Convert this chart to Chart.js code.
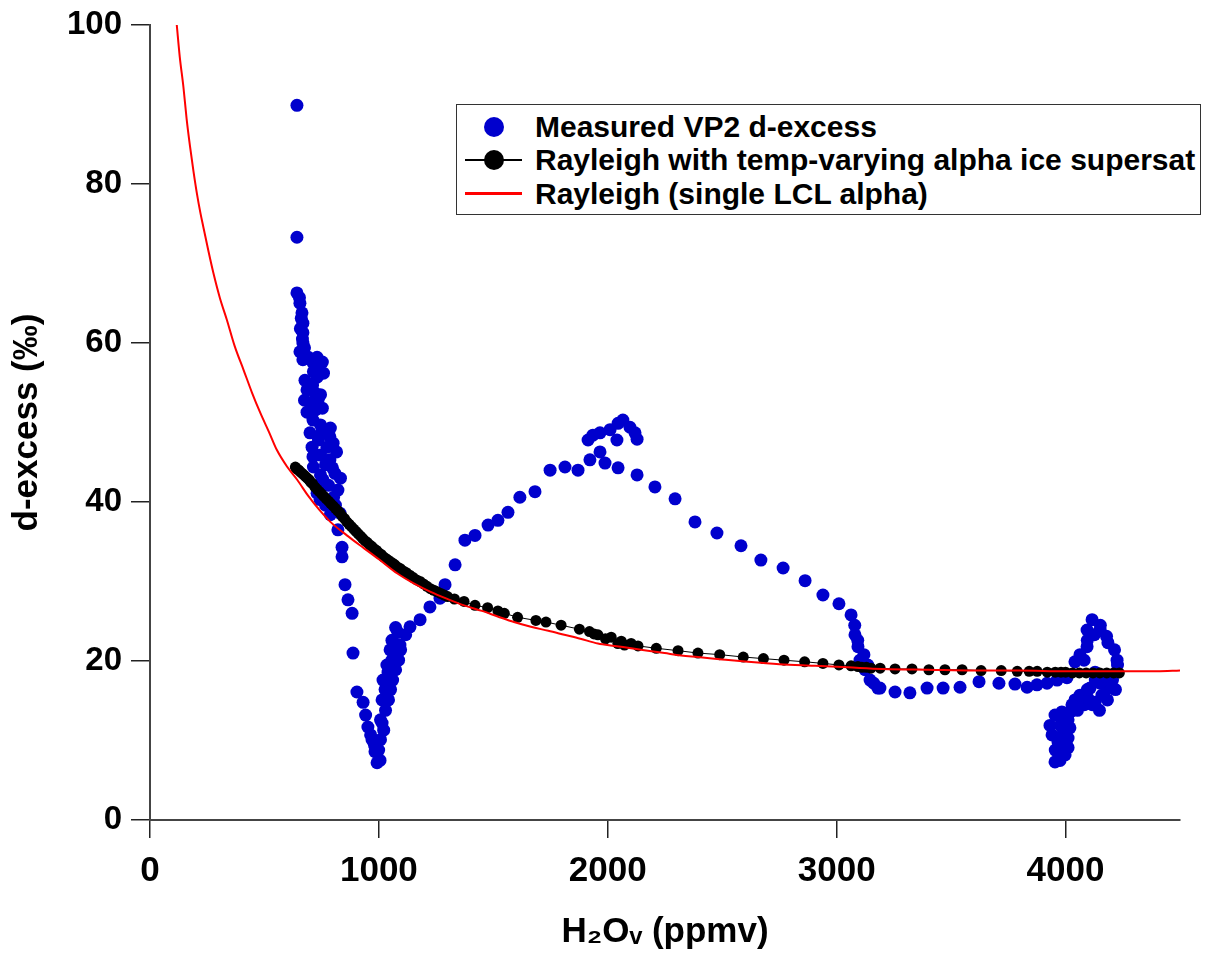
<!DOCTYPE html>
<html lang="en">
<head>
  <meta charset="UTF-8">
  <title>d-excess vs H2Ov</title>
  <script src="https://cdn.jsdelivr.net/npm/chart.js"></script>
  <style>
    * { box-sizing: border-box; margin: 0; padding: 0; }

    body {
      background: #fff;
      width: 1206px;
      height: 953px;
      overflow: hidden;
      font-family: 'Liberation Sans', Arial, sans-serif;
    }

    .wrap { position: relative; width: 1206px; height: 953px; }
    canvas { display: block; }

    .legend {
      position: absolute;
      left: 456px;
      top: 104px;
      width: 745px;
      height: 111px;
      border: 1.5px solid #333;
      background: #fff;
    }

    .legend .row {
      position: absolute;
      left: 0;
      height: 34px;
      display: flex;
      align-items: center;
      font-weight: bold;
      font-size: 30px;
      color: #000;
      white-space: nowrap;
    }

    .sym { position: relative; width: 78px; height: 34px; flex: none; }
    .sym .dot {
      position: absolute; left: 26.5px; top: 7px;
      width: 20px; height: 20px; border-radius: 50%;
    }
    .sym .line {
      position: absolute; left: 7.5px; width: 57px; top: 16px; height: 2px;
    }
  </style>
</head>
<body>

<div class="wrap">
  <canvas id="chart" width="1206" height="953"></canvas>
  <div class="legend">
    <div class="row" style="top:4.5px">
      <div class="sym"><div class="dot" style="background:#0000cd"></div></div>
      <span>Measured VP2 d-excess</span>
    </div>
    <div class="row" style="top:38px">
      <div class="sym"><div class="line" style="background:#000"></div><div class="dot" style="background:#000"></div></div>
      <span>Rayleigh with temp-varying alpha ice supersat</span>
    </div>
    <div class="row" style="top:71.5px">
      <div class="sym"><div class="line" style="background:#ff0000;height:3px;top:15.5px"></div></div>
      <span>Rayleigh (single LCL alpha)</span>
    </div>
  </div>
</div>

<script>
  // measured VP2 d-excess (ppmv, permil)
  const measuredX = [
    642, 642, 642, 653, 655, 661, 664, 668, 657, 668, 666, 668, 675, 655, 692, 668,
    730, 710, 753, 734, 714, 758, 730, 677, 710, 686, 721, 745, 675, 734, 699, 753,
    723, 686, 712, 745, 788, 751, 699, 786, 736, 800, 708, 773, 815, 745, 712, 786,
    767, 714, 797, 808, 745, 832, 756, 780, 736, 821, 730, 802, 743, 767, 810, 830,
    788, 821, 839, 839, 852, 865, 883, 887, 904, 931, 942, 952, 964, 970, 981, 983,
    992, 1005, 999, 1007, 1021, 1014, 1007, 1029, 1014, 1042, 1027, 1051, 1018, 1060, 1040, 1073,
    1035, 1057, 1086, 1079, 1049, 1095, 1092, 1057, 1117, 1083, 1073, 1136, 1180, 1223, 1267, 1289,
    1333, 1376, 1420, 1477, 1520, 1564, 1616, 1682, 1748, 1813, 1870, 1922, 1966, 1914, 1935, 1966,
    2010, 2045, 2066, 2097, 2119, 2128, 2040, 1988, 2045, 2128, 2206, 2294, 2381, 2477, 2582, 2669,
    2766, 2862, 2940, 3010, 3063, 3079, 3080, 3092, 3093, 3119, 3102, 3136, 3124, 3146, 3162, 3180,
    3189, 3255, 3320, 3395, 3465, 3539, 3622, 3709, 3779, 3832, 3875, 3919, 3963, 4006,
    3954, 3976, 3998, 4011, 3955, 3977, 3999, 3967, 3941, 3986, 4011, 4019, 4008, 3932, 3977, 4011,
    3995, 3954, 3984, 4021, 4052, 4028, 4082, 4117, 4148, 4129, 4041, 4183, 4098, 4063, 4159, 4095,
    4218, 4107, 4185, 4151, 4130, 4205, 4174, 4203, 4129, 4227, 4041, 4081, 4225, 4063, 4214, 4094,
    4185, 4095, 4179, 4126, 4094, 4151, 4152, 4116
  ];
  const measuredY = [
    89.9, 73.3, 66.3, 65.7, 65.0, 63.1, 63.8, 62.5, 61.8, 61.3, 60.5, 60.0, 59.4, 58.9, 58.2, 57.9,
    58.2, 57.6, 57.6, 57.0, 56.4, 56.2, 55.7, 55.3, 54.7, 54.1, 53.7, 53.5, 52.8, 52.8, 52.5, 51.8,
    51.6, 51.3, 50.3, 49.7, 49.3, 48.8, 48.7, 48.2, 47.8, 47.4, 46.9, 46.9, 46.3, 45.9, 45.7, 45.3,
    44.7, 44.4, 44.3, 43.6, 43.4, 43.0, 42.8, 42.1, 42.1, 41.5, 41.1, 40.6, 40.3, 39.6, 39.6, 38.6,
    38.4, 36.5, 34.3, 33.1, 29.6, 27.7, 26.0, 21.0, 16.1, 14.8, 13.2, 11.7, 10.7, 10.1, 9.4, 8.6,
    7.2, 7.5, 8.8, 10.1, 11.3, 12.2, 12.6, 13.8, 15.1, 15.1, 16.4, 16.4, 17.6, 17.6, 18.6, 18.9,
    19.5, 20.1, 20.1, 20.8, 21.4, 21.4, 22.0, 22.6, 23.3, 23.6, 24.2, 24.3, 25.2, 26.8, 27.9, 29.6,
    32.1, 35.2, 35.8, 37.1, 37.7, 38.7, 40.6, 41.3, 44.0, 44.4, 44.0, 45.3, 46.3, 47.8, 48.4, 48.7,
    49.1, 49.9, 50.3, 49.4, 48.7, 47.9, 47.8, 44.9, 44.3, 43.4, 41.9, 40.4, 37.5, 36.1, 34.5, 32.7,
    31.7, 30.1, 28.3, 27.2, 25.8, 24.5, 23.3, 22.6, 21.8, 20.8, 20.1, 19.5, 18.9, 17.6, 17.2, 16.6,
    16.6, 16.1, 16.0, 16.6, 16.6, 16.7, 17.4, 17.2, 17.1, 16.7, 17.0, 17.2, 17.6, 17.9,
    7.3, 7.5, 8.2, 9.1, 8.8, 8.6, 9.4, 9.8, 10.7, 10.7, 10.3, 11.6, 11.6, 11.9, 11.9, 12.6,
    12.6, 13.2, 13.6, 13.6, 13.8, 14.5, 14.5, 14.5, 13.8, 14.8, 15.1, 15.1, 15.3, 15.7, 15.7, 16.4,
    16.4, 16.6, 16.6, 17.2, 17.6, 17.6, 18.1, 18.2, 18.6, 19.5, 19.9, 20.1, 20.1, 20.8, 21.4, 21.8,
    22.3, 22.6, 23.1, 23.3, 23.9, 23.9, 24.5, 25.2
  ];

  // Rayleigh with temp-varying alpha ice supersat
  const tempAlphaX = [
    635, 640, 645, 650, 657, 665, 672, 680, 687, 695, 702, 710, 720, 730, 740, 750,
    760, 770, 780, 790, 800, 810, 820, 830, 840, 850, 860, 870, 880, 890, 900, 910,
    920, 930, 940, 950, 960, 970, 980, 990, 1000, 1010, 1020, 1030, 1040, 1050, 1060, 1070,
    1082, 1095, 1108, 1120, 1135, 1150, 1165, 1180, 1195, 1210, 1225, 1240, 1255, 1270, 1285, 1300,
    1330, 1372, 1420, 1475, 1520, 1548, 1606, 1686, 1730, 1796, 1876, 1920, 1940, 1957,
    1990, 2015, 2044, 2059, 2073, 2102, 2132, 2212, 2307, 2394, 2489, 2592, 2680, 2770, 2860, 2940,
    3010, 3063, 3093, 3110, 3130, 3150, 3190, 3255, 3329, 3403, 3473, 3548, 3631, 3719, 3789, 3841,
    3876, 3920, 3955, 3980, 4000, 4030, 4060, 4090, 4120, 4150, 4180, 4210, 4235
  ];
  const tempAlphaY = [
    44.4, 44.2, 44.1, 44.0, 43.8, 43.6, 43.4, 43.2, 43.0, 42.8, 42.5, 42.3, 41.9, 41.6, 41.3, 41.0,
    40.7, 40.4, 40.1, 39.8, 39.5, 39.2, 38.9, 38.6, 38.2, 37.9, 37.5, 37.2, 36.9, 36.6, 36.3, 36.0,
    35.7, 35.4, 35.1, 34.9, 34.6, 34.4, 34.1, 33.9, 33.6, 33.4, 33.1, 32.9, 32.7, 32.5, 32.3, 32.1,
    31.8, 31.6, 31.3, 31.1, 30.8, 30.5, 30.2, 30.0, 29.7, 29.4, 29.1, 28.9, 28.7, 28.5, 28.3, 28.1,
    27.8, 27.5, 27.0, 26.7, 26.3, 26.0, 25.5, 25.1, 24.9, 24.5, 24.0, 23.7, 23.4, 23.3,
    22.8, 23.0, 22.2, 22.5, 22.0, 22.2, 21.9, 21.6, 21.3, 21.0, 20.8, 20.5, 20.3, 20.1, 19.9, 19.7,
    19.5, 19.4, 19.3, 19.2, 19.2, 19.1, 19.1, 19.0, 19.0, 18.9, 18.9, 18.9, 18.8, 18.8, 18.7, 18.7,
    18.7, 18.6, 18.6, 18.6, 18.6, 18.5, 18.5, 18.5, 18.5, 18.5, 18.5, 18.5, 18.5
  ];

  // Rayleigh (single LCL alpha)
  const lclX = [
    117, 130, 146, 160, 175, 190, 205, 220, 233, 255, 277, 305, 336, 370, 409, 445,
    482, 520, 555, 600, 643, 693, 740, 788, 860, 934, 1000, 1081, 1150, 1226, 1300, 1372,
    1450, 1519, 1590, 1664, 1740, 1810, 1880, 1957, 2030, 2102, 2175, 2248, 2320, 2394, 2500, 2613,
    2750, 2900, 3050, 3200, 3400, 3600, 3800, 4000, 4200, 4400, 4500
  ];
  const lclY = [
    100, 96.0, 92.2, 88.2, 84.7, 81.6, 78.8, 76.4, 74.6, 71.6, 68.8, 65.7, 62.9, 59.6, 56.6, 53.8,
    51.2, 48.8, 46.5, 44.4, 42.8, 40.7, 39.0, 37.5, 35.8, 34.2, 32.8, 31.0, 29.8, 28.7, 27.8, 27.0,
    26.3, 25.6, 24.9, 24.3, 23.8, 23.3, 22.8, 22.2, 21.9, 21.6, 21.3, 21.0, 20.7, 20.5, 20.2, 19.9,
    19.6, 19.4, 19.2, 19.0, 18.9, 18.8, 18.8, 18.7, 18.7, 18.7, 18.8
  ];

  const xTickValues = [0, 1000, 2000, 3000, 4000];
  const yTickValues = [0, 20, 40, 60, 80, 100];

  const pairs = (xs, ys) => xs.map((x, i) => ({ x: x, y: ys[i] }));

  const fontFamily = "'Liberation Sans', Arial, sans-serif";

  new Chart(document.getElementById('chart'), {
    type: 'scatter',
    data: {
      datasets: [
        {
          label: 'Rayleigh (single LCL alpha)',
          data: pairs(lclX, lclY),
          showLine: true,
          borderColor: '#ff0000',
          borderWidth: 2,
          pointRadius: 0,
          cubicInterpolationMode: 'monotone',
          order: 1
        },
        {
          label: 'Rayleigh with temp-varying alpha ice supersat',
          data: pairs(tempAlphaX, tempAlphaY),
          showLine: true,
          borderColor: '#000',
          borderWidth: 1,
          pointRadius: 5.5,
          pointBackgroundColor: '#000',
          pointBorderWidth: 0,
          order: 2
        },
        {
          label: 'Measured VP2 d-excess',
          data: pairs(measuredX, measuredY),
          pointRadius: 6.5,
          pointBackgroundColor: '#0000cd',
          pointBorderWidth: 0,
          borderWidth: 0,
          order: 3
        }
      ]
    },
    options: {
      responsive: false,
      animation: false,
      devicePixelRatio: 1,
      layout: { padding: { top: 25, right: 26, left: 0, bottom: 0 } },
      plugins: {
        legend: { display: false },
        tooltip: { enabled: false }
      },
      scales: {
        x: {
          type: 'linear',
          min: 0,
          max: 4500,
          afterFit: s => { s.height = 133; },
          afterBuildTicks: s => { s.ticks = xTickValues.map(v => ({ value: v })); },
          ticks: {
            font: { family: fontFamily, weight: 'bold', size: 35 },
            color: '#000',
            padding: 12,
            maxRotation: 0,
            autoSkip: false,
            callback: v => String(v)
          },
          grid: { drawOnChartArea: false, drawTicks: true, tickLength: 18, color: '#222', lineWidth: 1.5 },
          border: { display: true, color: '#444', width: 2 },
          title: {
            display: true,
            text: 'H₂Oᵥ (ppmv)',
            font: { family: fontFamily, weight: 'bold', size: 35 },
            color: '#000',
            padding: { top: 0, bottom: 0 }
          }
        },
        y: {
          type: 'linear',
          min: 0,
          max: 100,
          afterFit: s => { s.width = 150; s.paddingTop = 0; s.paddingBottom = 0; },
          afterBuildTicks: s => { s.ticks = yTickValues.map(v => ({ value: v })); },
          ticks: {
            font: { family: fontFamily, weight: 'bold', size: 33 },
            color: '#000',
            padding: 9,
            autoSkip: false,
            callback: v => String(v)
          },
          grid: { drawOnChartArea: false, drawTicks: true, tickLength: 19, color: '#222', lineWidth: 1.5 },
          border: { display: true, color: '#444', width: 2 },
          title: {
            display: true,
            text: 'd-excess (‰)',
            font: { family: fontFamily, weight: 'bold', size: 35 },
            color: '#000',
            padding: { top: 6, bottom: 0 }
          }
        }
      }
    }
  });
</script>

</body>
</html>
